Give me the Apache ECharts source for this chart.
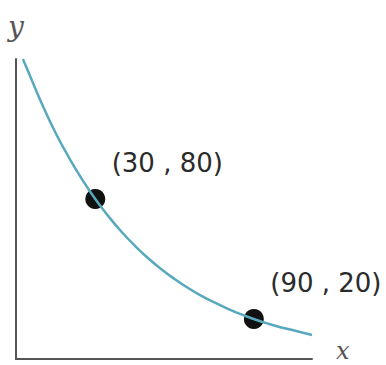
<!DOCTYPE html>
<html>
<head>
<meta charset="utf-8">
<script src="https://cdn.jsdelivr.net/npm/echarts@6/dist/echarts.min.js"></script>
<style>
  html, body { margin: 0; padding: 0; background: #fff; overflow: hidden; }
  #chart { width: 386px; height: 365px; }
</style>
</head>
<body>
<div id="chart"></div>
<script>
// curve
let curveX = [2.6, 5, 10, 15, 20, 25, 30, 35, 40, 45, 50, 55, 60, 65, 70, 75, 80, 85, 90, 95, 100, 106, 112];
let curveY = [150, 142.5, 127, 113, 100.8, 89.8, 80, 71.3, 63.5, 56.6, 50.4, 44.9, 40, 35.6, 31.7, 28.3, 25.2, 22.4, 20, 17.8, 15.9, 14, 12];

// marked points
let pointX = [30, 90];
let pointY = [80, 20];

let colors = {
  curve: '#58a9bd',
  axis: '#555',
  text: '#2b2b2b',
  dot: '#111'
};

let option = {
  animation: false,
  grid: {
    left: 16,
    right: 74,
    top: 59,
    bottom: 6
  },
  xAxis: {
    type: 'value',
    min: 0,
    max: 112,
    name: 'x',
    nameLocation: 'end',
    nameGap: 24,
    nameTextStyle: {
      fontFamily: 'DejaVu Serif',
      fontStyle: 'italic',
      fontSize: 24,
      color: colors.axis,
      verticalAlign: 'bottom',
      lineHeight: 16
    },
    axisLine: { lineStyle: { color: colors.axis, width: 2 } },
    axisTick: { show: false },
    axisLabel: { show: false },
    splitLine: { show: false }
  },
  yAxis: {
    type: 'value',
    min: 0,
    max: 150,
    name: 'y',
    nameLocation: 'end',
    nameGap: 19,
    nameTextStyle: {
      fontFamily: 'DejaVu Serif',
      fontStyle: 'italic',
      fontSize: 28,
      color: colors.axis,
      align: 'center'
    },
    axisLine: { show: true, lineStyle: { color: colors.axis, width: 2 } },
    axisTick: { show: false },
    axisLabel: { show: false },
    splitLine: { show: false }
  },
  series: [
    {
      type: 'line',
      smooth: true,
      showSymbol: false,
      clip: false,
      lineStyle: { color: colors.curve, width: 2.5 },
      data: curveX.map((x, i) => [x, curveY[i]])
    },
    {
      type: 'scatter',
      symbolSize: 20,
      itemStyle: { color: colors.dot, opacity: 1 },
      label: {
        show: true,
        position: 'inside',
        offset: [72, -36],
        fontFamily: 'DejaVu Sans',
        fontSize: 26,
        color: colors.text,
        formatter: function(p) {
          return '(' + p.value[0] + ' , ' + p.value[1] + ')';
        }
      },
      data: pointX.map((x, i) => [x, pointY[i]])
    }
  ]
};

let chart = echarts.init(document.getElementById('chart'), null, { renderer: 'svg' });
chart.setOption(option);
</script>
</body>
</html>
